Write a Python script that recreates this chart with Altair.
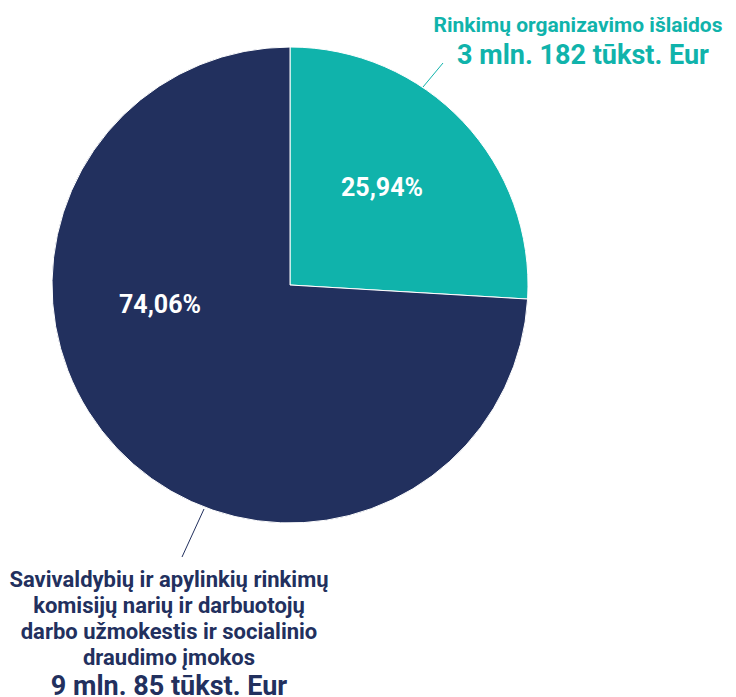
import altair as alt
import pandas as pd

# Election budget split
categories = ["Rinkimų organizavimo išlaidos",
              "Savivaldybių ir apylinkių rinkimų komisijų narių ir darbuotojų darbo užmokestis ir socialinio draudimo įmokos"]
shares = [25.94, 74.06]
amounts = ["3 mln. 182 tūkst. Eur", "9 mln. 85 tūkst. Eur"]
colors = ["#10B3AB", "#22305E"]

top_caption = ["Rinkimų organizavimo išlaidos"]
bottom_caption = ["Savivaldybių ir apylinkių rinkimų",
                  "komisijų narių ir darbuotojų",
                  "darbo užmokestis ir socialinio",
                  "draudimo įmokos"]

df = pd.DataFrame({
    "category": categories,
    "share": shares,
    "order": [0, 1],
    "pct": [f"{v:.2f}".replace(".", ",") + "%" for v in shares],
})

CX, CY, R = 290, 285, 238
FONT = "Roboto"

base = alt.Chart(df)

pie = base.mark_arc(outerRadius=R, stroke="white", strokeWidth=1).encode(
    theta=alt.Theta("share:Q", stack=True),
    color=alt.Color("category:N", scale=alt.Scale(domain=categories, range=colors), legend=None),
    order=alt.Order("order:Q"),
    x=alt.value(CX),
    y=alt.value(CY),
)

def pct_label(i, px, py):
    return base.transform_filter(alt.datum.order == i).mark_text(
        font=FONT, fontWeight="bold", fontSize=25, color="white", baseline="middle"
    ).encode(text="pct:N", x=alt.value(px), y=alt.value(py))

lbl_teal = pct_label(0, 382, 188)
lbl_navy = pct_label(1, 160, 305)

def leader(x1, y1, x2, y2, col):
    return alt.Chart(pd.DataFrame({"k": [0]})).mark_rule(color=col, strokeWidth=1).encode(
        x=alt.value(x1), y=alt.value(y1), x2=alt.value(x2), y2=alt.value(y2)
    )

line_teal = leader(423, 87, 443, 63, colors[0])
line_navy = leader(204, 509, 182, 557, colors[1])

def caption(lines, cx, y0, size, col, lh=26):
    return alt.Chart(pd.DataFrame({"k": [0]})).mark_text(
        text=lines, font=FONT, fontWeight="bold", fontSize=size, color=col,
        align="center", baseline="alphabetic", lineHeight=lh
    ).encode(x=alt.value(cx), y=alt.value(y0))

cap_top = caption(top_caption, 578, 32, 21, colors[0])
amt_top = caption([amounts[0]], 583, 64, 27, colors[0])
cap_bot = caption(bottom_caption, 169, 587, 22, colors[1])
amt_bot = caption([amounts[1]], 169, 695, 27, colors[1])

chart = alt.layer(
    pie, lbl_teal, lbl_navy, line_teal, line_navy, cap_top, amt_top, cap_bot, amt_bot
).properties(
    width=736, height=697, padding=0, autosize=alt.AutoSizeParams(type="none")
).configure_view(stroke=None)

chart.save("out.html", embed_options={"renderer": "svg", "actions": False})
